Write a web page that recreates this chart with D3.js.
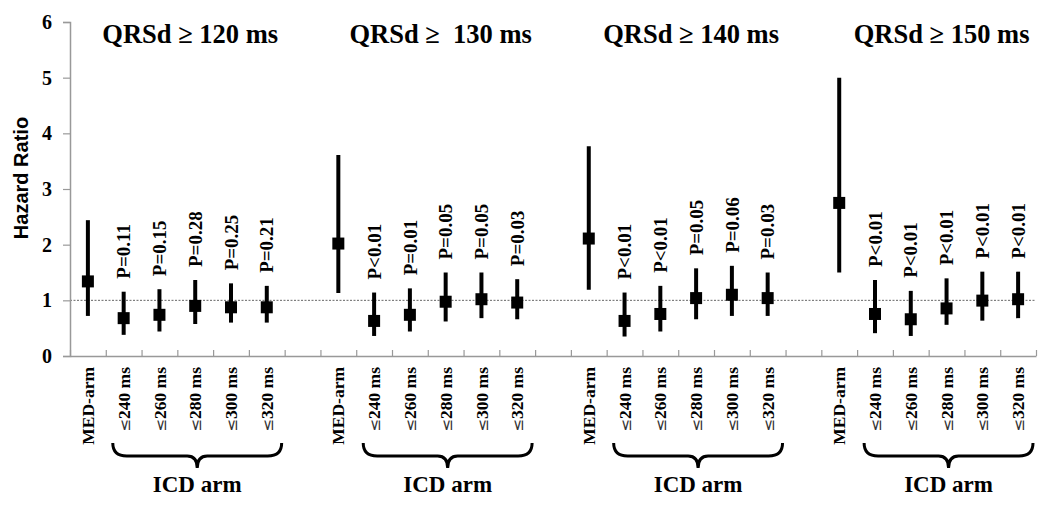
<!DOCTYPE html>
<html><head><meta charset="utf-8">
<script src="https://cdn.jsdelivr.net/npm/d3@7"></script>
<style>body{margin:0;background:#fff}svg{display:block}</style>
</head><body>
<script>
const groupTitles = ["QRSd \u2265 120 ms", "QRSd \u2265\u00a0 130 ms", "QRSd \u2265 140 ms", "QRSd \u2265 150 ms"];
const categories = ["MED-arm", "240 ms", "260 ms", "280 ms", "300 ms", "320 ms"];
const hr    = [[1.34,0.68,0.74,0.90,0.875,0.875],[2.02,0.63,0.74,0.975,1.02,0.96],[2.11,0.63,0.755,1.04,1.10,1.04],[2.75,0.755,0.66,0.855,0.995,1.02]];
const lower = [[0.72,0.38,0.44,0.575,0.60,0.60],[1.13,0.36,0.44,0.62,0.68,0.66],[1.19,0.35,0.44,0.66,0.72,0.72],[1.50,0.41,0.36,0.56,0.635,0.68]];
const upper = [[2.44,1.155,1.20,1.365,1.305,1.26],[3.61,1.14,1.215,1.50,1.50,1.38],[3.77,1.14,1.26,1.575,1.62,1.50],[5.0,1.365,1.17,1.395,1.515,1.515]];
const pLabels = [[null,"P=0.11","P=0.15","P=0.28","P=0.25","P=0.21"],[null,"P<0.01","P=0.01","P=0.05","P=0.05","P=0.03"],[null,"P<0.01","P<0.01","P=0.05","P=0.06","P=0.03"],[null,"P<0.01","P<0.01","P<0.01","P<0.01","P<0.01"]];
const yTicks = [0,1,2,3,4,5,6];
const groupLabel = "ICD arm";
const yTitle = "Hazard Ratio";

const W = 1050, H = 505;
const svg = d3.select("body").append("svg").attr("width", W).attr("height", H);
const nSlots = 27, slotsPerGroup = 7;
const x = d3.scaleLinear().domain([0, nSlots]).range([70, 1036]);
const y = d3.scaleLinear().domain([0, 6]).range([356, 22]);
const serif = "'Liberation Serif','Times New Roman',serif";

// reference line at HR = 1
svg.append("line").attr("x1", x(0)).attr("x2", x(nSlots)).attr("y1", y(1)).attr("y2", y(1))
  .attr("stroke", "#666").attr("stroke-width", 1).attr("stroke-dasharray", "2,1.5");

// y axis
const yAx = svg.append("g").attr("transform", `translate(${x(0)},0)`)
  .call(d3.axisLeft(y).tickValues(yTicks).tickFormat(d3.format("d")).tickSize(7).tickPadding(11));
yAx.select(".domain").attr("stroke", "#999").attr("stroke-width", 1.5);
yAx.selectAll(".tick line").attr("stroke", "#999").attr("stroke-width", 1.2);
yAx.selectAll(".tick text").attr("font-family", serif).attr("font-weight", "bold").attr("font-size", 20).attr("fill", "#000");

// x axis
const xAx = svg.append("g").attr("transform", `translate(0,${y(0)})`)
  .call(d3.axisBottom(x).tickValues(d3.range(0, nSlots + 1)).tickFormat("").tickSize(-6).tickSizeOuter(0));
xAx.select(".domain").attr("stroke", "#999").attr("stroke-width", 1.5);
xAx.selectAll(".tick line").attr("stroke", "#999").attr("stroke-width", 1.2);

// y title
svg.append("text").attr("transform", "translate(21,178) rotate(-90)").attr("text-anchor", "middle").attr("dy", "0.35em")
  .attr("font-family", "'Liberation Sans',Arial,sans-serif").attr("font-weight", "bold").attr("font-size", 20).text(yTitle);

hr.forEach((vals, g) => {
  const base = g * slotsPerGroup;
  const cx = i => x(base + i + 0.5);
  const G = svg.append("g");
  // title
  G.append("text").attr("x", cx(3) - 5).attr("y", 43).attr("text-anchor", "middle")
    .attr("font-family", serif).attr("font-weight", "bold").attr("font-size", 26.5).text(groupTitles[g]);
  // whiskers
  G.selectAll("line.ci").data(vals).join("line").attr("class", "ci")
    .attr("x1", (d, i) => cx(i)).attr("x2", (d, i) => cx(i))
    .attr("y1", (d, i) => y(lower[g][i])).attr("y2", (d, i) => y(upper[g][i]))
    .attr("stroke", "#000").attr("stroke-width", 4);
  // squares
  G.selectAll("rect.pt").data(vals).join("rect").attr("class", "pt")
    .attr("x", (d, i) => cx(i) - 6).attr("y", d => y(d) - 6).attr("width", 12).attr("height", 12).attr("fill", "#000");
  // p labels
  G.selectAll("text.p").data(pLabels[g].map((p, i) => ({p, i})).filter(d => d.p)).join("text").attr("class", "p")
    .attr("transform", d => `translate(${cx(d.i)},${y(upper[g][d.i]) - 13}) rotate(-90)`)
    .attr("dy", "0.35em").attr("font-family", serif).attr("font-weight", "bold").attr("font-size", 19).text(d => d.p);
  // category labels
  categories.forEach((c, i) => {
    const t = G.append("text").attr("transform", `translate(${cx(i)},367) rotate(-90)`)
      .attr("text-anchor", "end").attr("dy", "0.35em").attr("font-family", serif).attr("font-weight", "bold").attr("font-size", 17.5);
    if (i === 0) t.text(c);
    else {
      t.append("tspan").attr("font-family", "'DejaVu Sans',sans-serif").attr("font-weight", "normal").attr("font-size", 15).attr("fill", "#333").text("\u2264");
      t.append("tspan").text(c);
    }
  });
  // brace
  const x0 = x(base + 1) + 7, x1 = x(base + 6) - 3, xm = (x0 + x1) / 2;
  G.append("path").attr("d", `M${x0},443 Q${x0},456 ${x0 + 14},456 L${xm - 10},456 Q${xm},456 ${xm},468 Q${xm},456 ${xm + 10},456 L${x1 - 14},456 Q${x1},456 ${x1},443`)
    .attr("fill", "none").attr("stroke", "#000").attr("stroke-width", 3);
  G.append("text").attr("x", xm).attr("y", 492).attr("text-anchor", "middle")
    .attr("font-family", serif).attr("font-weight", "bold").attr("font-size", 23).text(groupLabel);
});
</script>
</body></html>
